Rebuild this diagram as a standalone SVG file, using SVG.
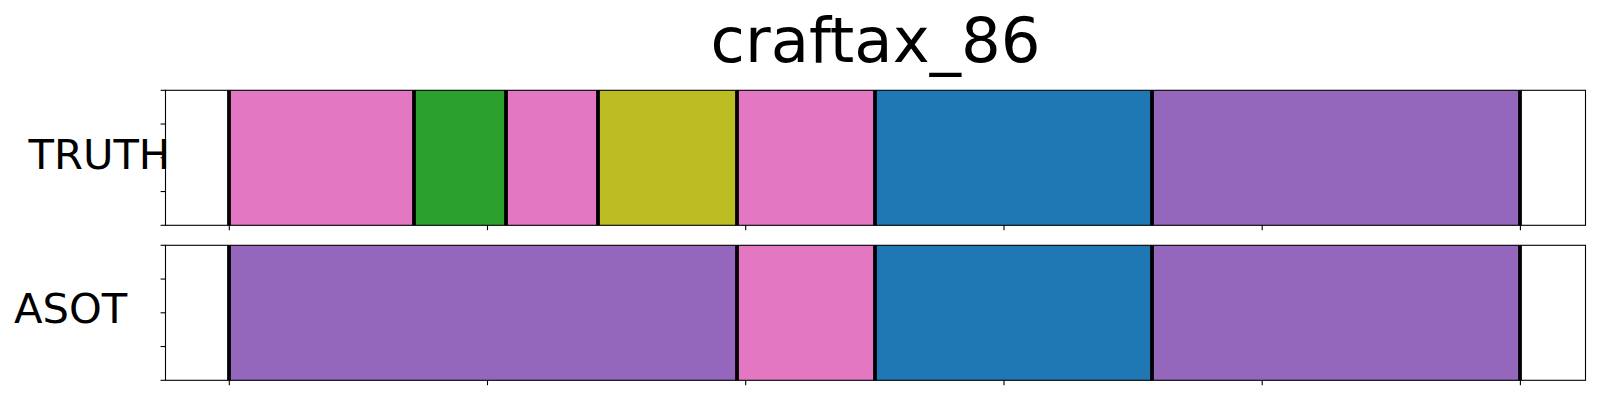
<svg xmlns="http://www.w3.org/2000/svg" width="1600" height="400" viewBox="0 0 1600 400">
<style>
  .txt { font-family: "DejaVu Sans", "Liberation Sans", sans-serif; fill: #000; }
  .title { font-size: 62.5px; }
  .lab { font-size: 41.67px; }
  .spine { fill: none; stroke: #000; stroke-width: 1.1; }
  .bnd { stroke: #000; stroke-width: 3.8; }
  .tick { stroke: #000; stroke-width: 1.1; }
  .pink { fill: #e377c2; }
  .green { fill: #2ca02c; }
  .olive { fill: #bcbd22; }
  .blue { fill: #1f77b4; }
  .purple { fill: #9467bd; }
</style>
<rect x="0" y="0" width="1600" height="400" fill="#ffffff"/>
<text class="txt title" x="875.5" y="62.3" text-anchor="middle">craftax_86</text>

<g id="truth">
  <rect x="165.5" y="90.3" width="1420" height="135" fill="#ffffff"/>
  <rect class="pink" x="229" y="90.3" width="185" height="135"/>
  <rect class="green" x="414" y="90.3" width="92" height="135"/>
  <rect class="pink" x="506" y="90.3" width="92" height="135"/>
  <rect class="olive" x="598" y="90.3" width="139" height="135"/>
  <rect class="pink" x="737" y="90.3" width="138" height="135"/>
  <rect class="blue" x="875" y="90.3" width="277" height="135"/>
  <rect class="purple" x="1152" y="90.3" width="368" height="135"/>
  <g class="bnd">
    <line x1="229" y1="90.3" x2="229" y2="225.3"/>
    <line x1="414" y1="90.3" x2="414" y2="225.3"/>
    <line x1="506" y1="90.3" x2="506" y2="225.3"/>
    <line x1="598" y1="90.3" x2="598" y2="225.3"/>
    <line x1="737" y1="90.3" x2="737" y2="225.3"/>
    <line x1="875" y1="90.3" x2="875" y2="225.3"/>
    <line x1="1152" y1="90.3" x2="1152" y2="225.3"/>
    <line x1="1520" y1="90.3" x2="1520" y2="225.3"/>
  </g>
  <rect class="spine" x="165.5" y="90.3" width="1420" height="135"/>
  <g class="tick">
    <line x1="160.6" y1="90.3" x2="165.5" y2="90.3"/>
    <line x1="160.6" y1="124.05" x2="165.5" y2="124.05"/>
    <line x1="160.6" y1="157.8" x2="165.5" y2="157.8"/>
    <line x1="160.6" y1="191.55" x2="165.5" y2="191.55"/>
    <line x1="160.6" y1="225.3" x2="165.5" y2="225.3"/>
    <line x1="229.3" y1="225.3" x2="229.3" y2="230.2"/>
    <line x1="487.5" y1="225.3" x2="487.5" y2="230.2"/>
    <line x1="745.7" y1="225.3" x2="745.7" y2="230.2"/>
    <line x1="1004" y1="225.3" x2="1004" y2="230.2"/>
    <line x1="1262.2" y1="225.3" x2="1262.2" y2="230.2"/>
    <line x1="1520.4" y1="225.3" x2="1520.4" y2="230.2"/>
  </g>
  <text class="txt lab" x="28.5" y="168.7">TRUTH</text>
</g>

<g id="asot">
  <rect x="165.5" y="245.3" width="1420" height="135" fill="#ffffff"/>
  <rect class="purple" x="229" y="245.3" width="508" height="135"/>
  <rect class="pink" x="737" y="245.3" width="138" height="135"/>
  <rect class="blue" x="875" y="245.3" width="277" height="135"/>
  <rect class="purple" x="1152" y="245.3" width="368" height="135"/>
  <g class="bnd">
    <line x1="229" y1="245.3" x2="229" y2="380.3"/>
    <line x1="737" y1="245.3" x2="737" y2="380.3"/>
    <line x1="875" y1="245.3" x2="875" y2="380.3"/>
    <line x1="1152" y1="245.3" x2="1152" y2="380.3"/>
    <line x1="1520" y1="245.3" x2="1520" y2="380.3"/>
  </g>
  <rect class="spine" x="165.5" y="245.3" width="1420" height="135"/>
  <g class="tick">
    <line x1="160.6" y1="245.3" x2="165.5" y2="245.3"/>
    <line x1="160.6" y1="279.05" x2="165.5" y2="279.05"/>
    <line x1="160.6" y1="312.8" x2="165.5" y2="312.8"/>
    <line x1="160.6" y1="346.55" x2="165.5" y2="346.55"/>
    <line x1="160.6" y1="380.3" x2="165.5" y2="380.3"/>
    <line x1="229.3" y1="380.3" x2="229.3" y2="385.2"/>
    <line x1="487.5" y1="380.3" x2="487.5" y2="385.2"/>
    <line x1="745.7" y1="380.3" x2="745.7" y2="385.2"/>
    <line x1="1004" y1="380.3" x2="1004" y2="385.2"/>
    <line x1="1262.2" y1="380.3" x2="1262.2" y2="385.2"/>
    <line x1="1520.4" y1="380.3" x2="1520.4" y2="385.2"/>
  </g>
  <text class="txt lab" x="14" y="322.7">ASOT</text>
</g>
</svg>
